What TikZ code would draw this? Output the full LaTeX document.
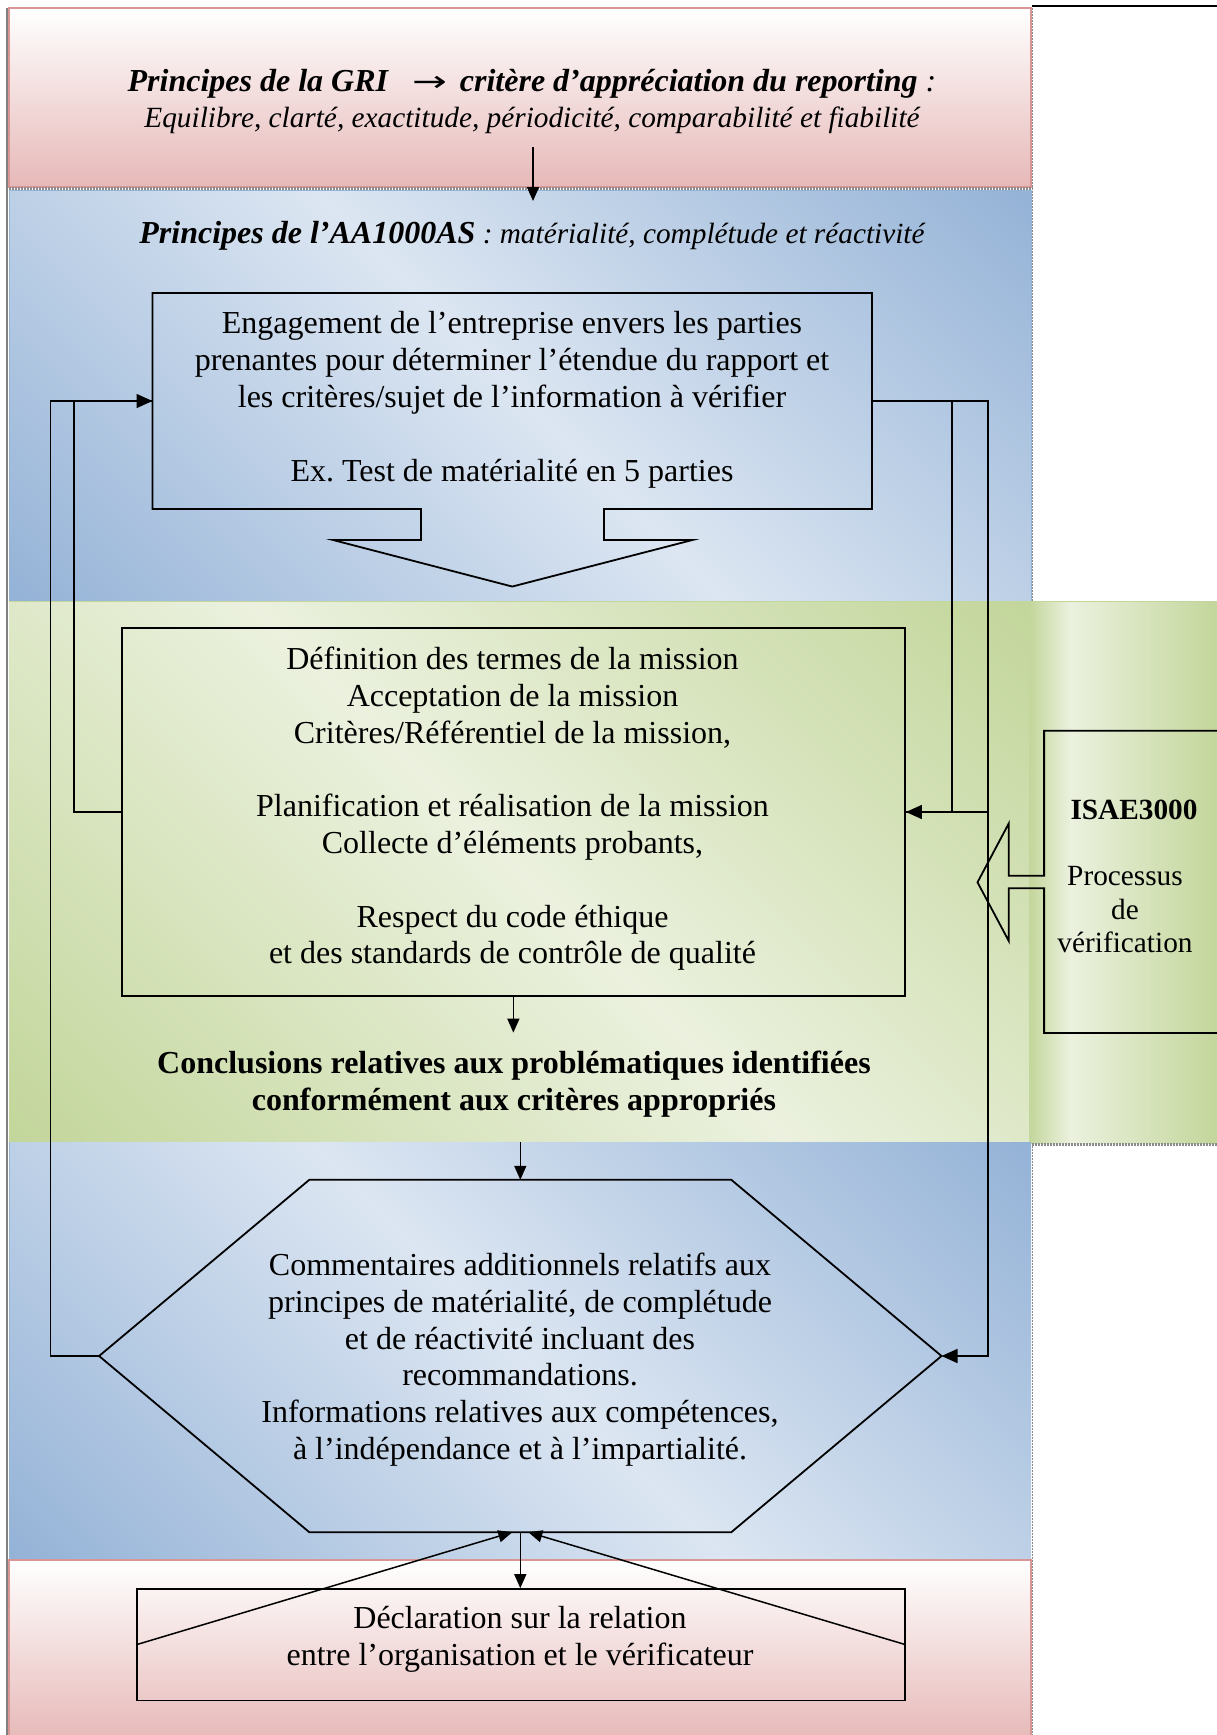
\documentclass[tikz,border=0pt]{standalone}
\usepackage{fontspec}
\setmainfont{Liberation Serif}
\newfontfamily\arrowfont{DejaVu Sans}
\usetikzlibrary{arrows.meta,calc}
\definecolor{pinkd}{HTML}{E6B9B8}
\definecolor{pinkb}{HTML}{DA9694}
\definecolor{blued}{HTML}{95B3D7}
\definecolor{bluel}{HTML}{DCE6F2}
\definecolor{greend}{HTML}{C3D69B}
\definecolor{greenl}{HTML}{EBF1DE}
\definecolor{shadowc}{HTML}{8C8C8C}
\pgfdeclarehorizontalshading{bluediag}{100bp}{color(0bp)=(blued); color(15bp)=(blued); color(50bp)=(bluel); color(85bp)=(blued); color(100bp)=(blued)}
\pgfdeclarehorizontalshading{greendiag}{100bp}{color(0bp)=(greend); color(15bp)=(greend); color(50bp)=(greenl); color(85bp)=(greend); color(100bp)=(greend)}
\pgfdeclarehorizontalshading{isaeshade}{100bp}{color(0bp)=(greend); color(25bp)=(greend); color(36bp)=(greenl); color(75bp)=(greend); color(100bp)=(greend)}
\tikzset{
  box/.style={draw, line width=1.8pt, rectangle, inner sep=0pt},
  shapeonly/.style={rectangle, inner sep=0pt},
  txt/.style={align=center, inner sep=0pt, font=\fontsize{32}{36.8}\selectfont,
    execute at begin node=\strut, execute at end node=\strut},
  stxt/.style={align=center, inner sep=0pt, font=\fontsize{29.3}{33.7}\selectfont,
    execute at begin node=\strut, execute at end node=\strut},
  conn/.style={line width=1.5pt},
  arr/.style={conn, -{Triangle[length=14pt,width=12pt]}},
  barr/.style={conn, -{Triangle[length=16pt,width=14pt]}},
  outline/.style={line width=1.8pt, line join=miter},
}
\begin{document}
\begin{tikzpicture}[x=1pt,y=-1pt]
\useasboundingbox (0,0) rectangle (1217,1735);
\fill[white] (0,0) rectangle (1217,1735);
% ---- bands
\shade[top color=white, bottom color=pinkd] (9,8) rectangle (1031,187);
\draw[pinkb, line width=2pt] (9,8) rectangle (1031,187);
\shade[shading=bluediag, shading angle=45] (9,190) rectangle (1031,601);
\draw[blued, line width=1pt] (9,190) rectangle (1031,601);
\shade[shading=greendiag, shading angle=45] (9,601) rectangle (1029,1142);
\shade[shading=isaeshade] (1029,601) rectangle (1217,1143);
\draw[greend, line width=1pt] (9,601) -- (1217,601);
\shade[shading=bluediag, shading angle=45] (9,1142) rectangle (1031,1560);
\draw[blued, line width=1pt] (9,1142) -- (9,1560);
\shade[top color=white, bottom color=pinkd] (9,1560) rectangle (1031,1740);
\draw[pinkb, line width=2pt] (9,1740) -- (9,1560) -- (1031,1560) -- (1031,1740);
% shadows / edges
\draw[shadowc, line width=2.5pt, dash pattern=on 1.5pt off 1.5pt] (9,188.5) -- (1033,188.5);
\draw[shadowc, line width=1.5pt, dash pattern=on 1.5pt off 1.5pt] (1032.5,8) -- (1032.5,601);
\draw[shadowc, line width=1.5pt, dash pattern=on 1.5pt off 1.5pt] (1032.5,1146) -- (1032.5,1735);
\draw[shadowc, line width=2.5pt, dash pattern=on 1.5pt off 1.5pt] (1032,1144.5) -- (1217,1144.5);
\draw[gray, line width=1.5pt] (7,8) -- (7,1735);
\draw[line width=2pt] (1032,6) -- (1217,6);

% ---- headings
\node[txt] (gri1) at (532,84) {\bfseries\itshape Principes de la GRI\hspace{24pt}{\mdseries\upshape\arrowfont\scalebox{1.3}[0.9]{→}}\hspace{13pt}critère d’appréciation du reporting{\mdseries~:}};
\node[stxt] (gri2) at (532,120.5) {\itshape Equilibre, clarté, exactitude, périodicité, comparabilité et fiabilité};
\node[txt] (aa) at (532,236.5) {\bfseries\itshape Principes de l’AA1000AS{\mdseries\fontsize{29.3}{33.7}\selectfont{} : matérialité, complétude et réactivité}};

% ---- engagement box with down-arrow callout
\node[shapeonly, minimum width=719.1pt, minimum height=215.7pt] (eng) at (512.25,401) {};
\draw[outline] (eng.south west) -- (eng.north west) -- (eng.north east) -- (eng.south east)
  -- ($(eng.south)+(91.75,0)$) -- ($(eng.south)+(91.75,31)$) -- ($(eng.south)+(180,31)$)
  -- ($(eng.south)+(0,77.5)$) -- ($(eng.south)+(-179,31)$) -- ($(eng.south)+(-91.25,31)$)
  -- ($(eng.south)+(-91.25,0)$) -- cycle;
\node[txt] (engtxt) at (512,402) {Engagement de l’entreprise envers les parties\\
prenantes pour déterminer l’étendue du rapport et\\
les critères/sujet de l’information à vérifier\\[36.8pt]
Ex.\ Test de matérialité en 5 parties};

% ---- definition box
\node[box, minimum width=783.3pt, minimum height=368pt] (def) at (513.35,812) {};
\node[txt] (deftxt) at (512.5,810.9) {Définition des termes de la mission\\
Acceptation de la mission\\
Critères/Référentiel de la mission,\\[36.8pt]
Planification et réalisation de la mission\\
Collecte d’éléments probants,\\[36.8pt]
Respect du code éthique\\
et des standards de contrôle de qualité};

\node[txt, font=\fontsize{32}{36.8}\selectfont\bfseries] (concl) at (514,1086) {Conclusions relatives aux problématiques identifiées\\
conformément aux critères appropriés};

% ---- ISAE box with left-arrow callout
\node[shapeonly, minimum width=185.7pt, minimum height=301.7pt] (isae) at (1137.15,881.85) {};
\draw[outline] (isae.north east) -- (isae.north west) -- ($(isae.west)+(0,-6.15)$)
  -- ($(isae.west)+(-35.3,-6.15)$) -- ($(isae.west)+(-35.3,-58.5)$) -- ($(isae.west)+(-66.6,0.45)$)
  -- ($(isae.west)+(-35.3,59.2)$) -- ($(isae.west)+(-35.3,6.45)$) -- ($(isae.west)+(0,6.45)$)
  -- (isae.south west) -- (isae.south east);
\node[stxt, font=\fontsize{29.3}{33.7}\selectfont\bfseries] (isaetitle) at (1134,812.5) {ISAE3000};
\node[stxt] (isaetxt) at (1125,914.5) {Processus\\de\\vérification};

% ---- hexagon
\node[shapeonly, minimum width=842pt, minimum height=352pt] (hex) at (520.3,1356) {};
\draw[outline] (hex.west) -- ($(hex.north)+(-211,0)$) -- ($(hex.north)+(211,0)$) -- (hex.east)
  -- ($(hex.south)+(211,0)$) -- ($(hex.south)+(-211,0)$) -- cycle;
\node[txt] (hextxt) at (520,1361.8) {Commentaires additionnels relatifs aux\\
principes de matérialité, de complétude\\
et de réactivité incluant des\\
recommandations.\\
Informations relatives aux compétences,\\
à l’indépendance et à l’impartialité.};

% ---- declaration
\node[box, minimum width=768pt, minimum height=111.5pt] (decl) at (521,1644.75) {};
\node[txt] (decltxt) at (520,1641.5) {Déclaration sur la relation\\
entre l’organisation et le vérificateur};

% ---- connectors
\coordinate (griA) at (533,147);
\coordinate (griB) at (533,201);
\draw[arr] (griA) -- (griB);
\draw[barr] (hex.west) -- ++(-48.6,0) |- (eng.west);
\draw[conn] (def.west) -- ++(-46.7,0) |- (eng.west);
\draw[barr] (eng.east) -- ++(116.2,0) |- (hex.east);
\draw[barr] (eng.east) -- ++(80.2,0) |- (def.east);
\draw[conn] (def.east) -- ++(83,0);
\draw[arr, shorten >=18pt] (def.south) -- (def.south |- concl.north);
\coordinate (gbot) at (520.3,1142);
\draw[arr] (gbot) -- (hex.north);
\draw[arr] (hex.south) -- (hex.south |- decl.north);
\draw[arr] (decl.west) -- ($(hex.south)+(-8,0)$);
\draw[arr] (decl.east) -- ($(hex.south)+(8,0)$);
\end{tikzpicture}
\end{document}
